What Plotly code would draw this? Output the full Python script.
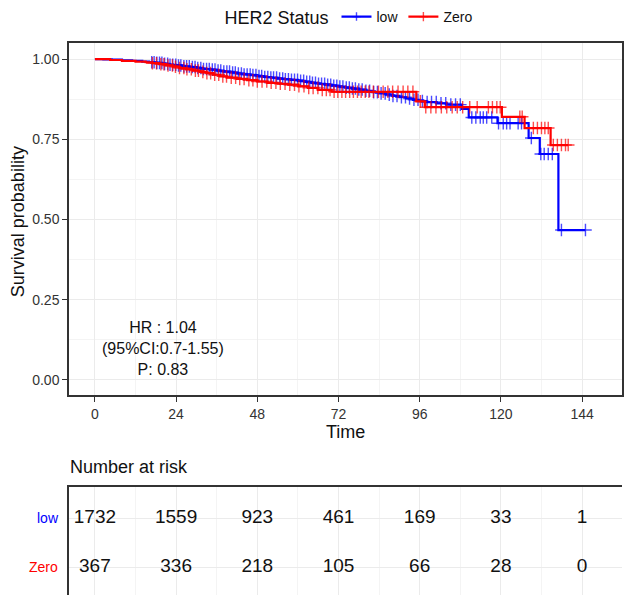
import plotly.graph_objects as go

# ---------------- data ----------------
# Kaplan-Meier step curves (time in months, survival after each step)
LOW_T = [0, 2.5, 5, 8, 11, 14, 16, 18, 20, 22, 24, 26, 28, 30, 32, 34, 36, 38, 40, 42,
         44, 46, 48, 50, 52, 54, 56, 58, 60, 62, 64, 66, 68, 70, 72, 74, 76, 78, 80, 82,
         84, 86, 88, 90, 92, 94, 96, 98, 101, 104, 108.5, 110.5, 119, 128.2, 131.5, 137]
LOW_S = [1.0, 0.999, 0.998, 0.996, 0.994, 0.992, 0.990, 0.988, 0.985, 0.982, 0.980, 0.977,
         0.975, 0.972, 0.969, 0.967, 0.964, 0.961, 0.958, 0.955, 0.952, 0.950, 0.947, 0.944,
         0.942, 0.939, 0.937, 0.935, 0.932, 0.929, 0.926, 0.923, 0.920, 0.917, 0.914, 0.911,
         0.908, 0.905, 0.901, 0.897, 0.893, 0.889, 0.885, 0.881, 0.877, 0.873, 0.869, 0.866,
         0.862, 0.858, 0.845, 0.818, 0.800, 0.754, 0.704, 0.467]
LOW_CENSOR = [16.8, 17.5, 18.3, 19.1, 19.8, 20.6, 21.5, 22.2, 23.0, 23.9, 24.7, 25.4, 26.3,
              27.1, 27.9, 28.8, 29.6, 30.4, 31.3, 32.1, 33.0, 33.8, 34.7, 35.5, 36.4, 37.2,
              38.1, 39.0, 39.8, 40.7, 41.5, 42.4, 43.3, 44.1, 45.0, 45.9, 46.7, 47.6, 48.5,
              49.3, 50.2, 51.1, 52.0, 52.8, 53.7, 54.6, 55.5, 56.3, 57.2, 58.1, 59.0, 59.9,
              60.8, 61.7, 62.6, 63.5, 64.3, 65.2, 66.1, 67.0, 67.9, 68.8, 69.7, 70.6, 71.5,
              72.4, 73.3, 74.3, 75.2, 76.1, 77.0, 78.0, 79.0, 80.1, 81.2, 82.4, 83.5, 84.6,
              85.8, 87.0, 88.1, 89.3, 90.6, 91.8, 93.0, 94.3, 95.5, 96.8, 98.2, 99.5, 100.9,
              102.3, 103.7, 105.2, 106.6, 108.0, 111.4, 112.6, 113.9, 114.8, 115.8, 117.3,
              119.3, 120.7, 121.7, 122.7, 125.1, 126.1, 129.0, 131.8, 132.8, 134.0, 135.2,
              137.9, 145.0]

ZERO_T = [0, 4.5, 8, 12, 15, 17, 19, 21, 23, 25, 27, 29, 31, 33, 35, 37, 39, 42, 45, 48,
          51, 54, 57, 60, 63, 66, 70, 95, 97.5, 120.3, 127, 134.7]
ZERO_S = [1.0, 0.997, 0.994, 0.992, 0.990, 0.987, 0.984, 0.980, 0.976, 0.972, 0.968, 0.964,
          0.960, 0.956, 0.951, 0.946, 0.942, 0.938, 0.934, 0.930, 0.926, 0.923, 0.920, 0.915,
          0.910, 0.904, 0.898, 0.868, 0.850, 0.820, 0.785, 0.732]
ZERO_CENSOR = [17.0, 18.2, 19.5, 20.4, 21.6, 22.9, 23.8, 25.0, 26.3, 27.2, 28.5, 29.7, 30.6,
               31.9, 33.1, 34.2, 35.4, 36.6, 37.8, 38.9, 40.3, 41.6, 42.8, 44.1, 45.5, 46.7,
               48.0, 49.4, 50.8, 52.1, 53.5, 54.8, 56.2, 57.6, 59.0, 60.3, 61.8, 63.2, 64.5,
               65.9, 67.2, 68.4, 69.5, 70.7, 71.8, 73.0, 74.1, 75.3, 76.4, 77.6, 78.7, 79.9,
               81.0, 82.3, 83.8, 85.2, 86.6, 88.0, 89.6, 91.1, 92.5, 94.0, 96.2, 97.8, 99.3,
               100.8, 102.4, 104.0, 105.6, 107.1, 108.7, 110.8, 113.0, 116.3, 117.5, 118.8,
               119.8, 125.6, 126.3, 129.6, 130.8, 132.0, 133.0, 134.0, 135.5, 136.7, 137.9,
               139.1, 139.9]

GROUPS = ["low", "Zero"]
COLORS = ["#0000FF", "#FF0000"]

RISK_TIMES = [0, 24, 48, 72, 96, 120, 144]
RISK_LOW = [1732, 1559, 923, 461, 169, 33, 1]
RISK_ZERO = [367, 336, 218, 105, 66, 28, 0]

HR_LINES = ["HR : 1.04", "(95%CI:0.7-1.55)", "P: 0.83"]
HR_X = 20
HR_Y = 0.097

X_TICKS = [0, 24, 48, 72, 96, 120, 144]
Y_TICKS = [0, 0.25, 0.5, 0.75, 1.0]
Y_TICKTEXT = ["0.00", "0.25", "0.50", "0.75", "1.00"]

FONT = "Liberation Sans, Arial, sans-serif"


def build_trace(times, surv, censor):
    """Merge step vertices and censor marks into one hv-step trace."""
    pts = [(t, s, 0) for t, s in zip(times, surv)]
    for c in censor:
        s_at = surv[0]
        for t, s in zip(times, surv):
            if t <= c:
                s_at = s
        pts.append((c, s_at, 1))
    pts.sort(key=lambda p: (p[0], p[2]))
    xs = [p[0] for p in pts]
    ys = [p[1] for p in pts]
    sz = [9 if p[2] else 0 for p in pts]
    return xs, ys, sz


fig = go.Figure()

for name, color, (t, s, c) in zip(
        GROUPS, COLORS, [(LOW_T, LOW_S, LOW_CENSOR), (ZERO_T, ZERO_S, ZERO_CENSOR)]):
    xs, ys, sz = build_trace(t, s, c)
    fig.add_trace(go.Scatter(
        x=xs, y=ys, name=name, mode="lines+markers",
        line=dict(color=color, width=2.2, shape="hv"),
        marker=dict(symbol="cross-thin", size=sz, color=color,
                    line=dict(color=color, width=1.4)),
        xaxis="x", yaxis="y", hoverinfo="skip"))

# risk table
for row, vals in zip([2, 1], [RISK_LOW, RISK_ZERO]):
    fig.add_trace(go.Scatter(
        x=RISK_TIMES, y=[row] * len(RISK_TIMES), mode="text",
        text=[str(v) for v in vals], textposition="middle center",
        textfont=dict(size=19, color="#111111", family=FONT),
        xaxis="x2", yaxis="y2", showlegend=False, hoverinfo="skip"))

annotations = [
    dict(x=HR_X, y=HR_Y, xref="x", yref="y", text="<br>".join(HR_LINES), showarrow=False,
         font=dict(size=16, color="#111111", family=FONT), align="center",
         xanchor="center", yanchor="middle"),
    dict(x=0.5, y=1 - 432 / 595, xref="paper", yref="paper", text="Time", showarrow=False,
         font=dict(size=18, color="#111111", family=FONT), xanchor="center", yanchor="middle"),
    dict(x=(18 - 69) / 555, y=1 - 222 / 595, xref="paper", yref="paper",
         text="Survival probability", textangle=-90, showarrow=False,
         font=dict(size=18, color="#111111", family=FONT), xanchor="center", yanchor="middle"),
    dict(x=(68 - 69) / 555, y=1 - 467 / 595, xref="paper", yref="paper",
         text="Number at risk", showarrow=False,
         font=dict(size=18, color="#111111", family=FONT), xanchor="left", yanchor="middle"),
    dict(x=(61 - 69) / 555, y=2, xref="paper", yref="y2", text=GROUPS[0], showarrow=False,
         font=dict(size=14, color=COLORS[0], family=FONT), xanchor="right", yanchor="middle"),
    dict(x=(60 - 69) / 555, y=1, xref="paper", yref="y2", text=GROUPS[1], showarrow=False,
         font=dict(size=14, color=COLORS[1], family=FONT), xanchor="right", yanchor="middle"),
]

GRID = "#ebebeb"
MINOR = "#f4f4f4"
LINE = "#333333"

fig.update_layout(
    width=624, height=595,
    margin=dict(l=69, r=0, t=0, b=0),
    paper_bgcolor="white", plot_bgcolor="white",
    font=dict(family=FONT, color="#111111"),
    showlegend=True,
    legend=dict(orientation="h", x=(223 - 69) / 555, y=1 - 18 / 595,
                xanchor="left", yanchor="middle",
                title=dict(text="HER2 Status", font=dict(size=18, family=FONT), side="left"),
                font=dict(size=14, family=FONT), bgcolor="rgba(0,0,0,0)",
                itemwidth=30),
    xaxis=dict(domain=[0, 1], anchor="y", range=[-7.66, 155.8],
               tickmode="array", tickvals=X_TICKS,
               ticks="outside", ticklen=5, tickwidth=1.2, tickcolor=LINE,
               tickfont=dict(size=14, color="#333333"),
               showgrid=True, gridcolor=GRID, gridwidth=1.2,
               minor=dict(dtick=12, tick0=0, showgrid=True, gridcolor=MINOR, gridwidth=0.9),
               showline=True, linecolor=LINE, linewidth=1.5, mirror=True, zeroline=False),
    yaxis=dict(domain=[1 - 395 / 595, 1 - 43 / 595], anchor="x", range=[-0.047, 1.05],
               tickmode="array", tickvals=Y_TICKS, ticktext=Y_TICKTEXT,
               ticks="outside", ticklen=5, tickwidth=1.2, tickcolor=LINE,
               tickfont=dict(size=14, color="#333333"),
               showgrid=True, gridcolor=GRID, gridwidth=1.2,
               minor=dict(dtick=0.125, tick0=0, showgrid=True, gridcolor=MINOR, gridwidth=0.9),
               showline=True, linecolor=LINE, linewidth=1.5, mirror=True, zeroline=False),
    xaxis2=dict(domain=[0, 1], anchor="y2", matches="x", range=[-7.66, 155.8],
                tickmode="array", tickvals=X_TICKS, showticklabels=False, ticks="",
                side="top", showgrid=True, gridcolor=GRID, gridwidth=1.2,
                minor=dict(dtick=12, tick0=0, showgrid=True, gridcolor=MINOR, gridwidth=0.9),
                showline=True, linecolor=LINE, linewidth=1.5, zeroline=False),
    yaxis2=dict(domain=[0, 1 - 487 / 595], anchor="x2", range=[0.4286, 2.633],
                tickmode="array", tickvals=[1, 2], showticklabels=False, ticks="",
                showgrid=True, gridcolor=GRID, gridwidth=1.2,
                showline=True, linecolor=LINE, linewidth=1.5, zeroline=False),
    annotations=annotations,
)

fig.write_html("out.html")
